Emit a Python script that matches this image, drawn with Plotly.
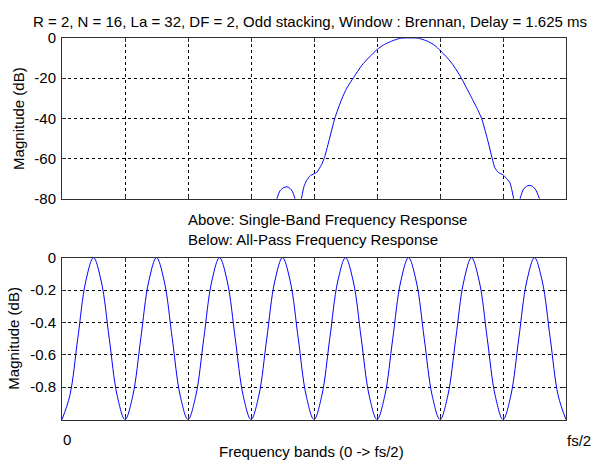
import plotly.graph_objects as go

# ---------------- data ----------------
# Top panel: single-band frequency response (dB), x in frequency bands (0..8 = 0..fs/2)
sb_freq = [3.41, 3.46, 3.52, 3.57, 3.62, 3.66, 3.70, None,
           3.80, 3.84, 3.88, 3.94, 4.04, 4.12, 4.17, 4.25, 4.33, 4.44, 4.52, 4.63,
           4.76, 4.88, 5.00, 5.10, 5.21, 5.30, 5.37, 5.45, 5.52, 5.59, 5.66, 5.73,
           5.82, 5.92, 6.00, 6.12, 6.22, 6.34, 6.42, 6.50, 6.58, 6.66, 6.75, 6.83,
           6.87, 6.93, 7.00, 7.06, 7.11, 7.14, 7.17, None,
           7.27, 7.32, 7.37, 7.42, 7.47, 7.52, 7.58]
sb_mag = [-80, -76, -74.4, -74, -74.8, -76.5, -80, None,
          -80, -74, -71, -68.5, -66.9, -63, -59, -49.6, -40, -30.4, -25, -19.6,
          -13.6, -9.5, -5.8, -3.6, -1.9, -0.8, -0.2, 0, 0, 0, -0.2, -0.8,
          -1.9, -3.8, -6.2, -10, -14, -20, -24.8, -29.6, -34.5, -40, -50, -60,
          -64.5, -67, -68, -70, -72, -75.5, -80, None,
          -80, -75.5, -73.8, -73.3, -73.8, -75.5, -80]

# Bottom panel: all-pass frequency response (dB), sampled every 1/8 band
ap_freq = [0, 0.125, 0.25, 0.375, 0.5, 0.625, 0.75, 0.875,
           1, 1.125, 1.25, 1.375, 1.5, 1.625, 1.75, 1.875,
           2, 2.125, 2.25, 2.375, 2.5, 2.625, 2.75, 2.875,
           3, 3.125, 3.25, 3.375, 3.5, 3.625, 3.75, 3.875,
           4, 4.125, 4.25, 4.375, 4.5, 4.625, 4.75, 4.875,
           5, 5.125, 5.25, 5.375, 5.5, 5.625, 5.75, 5.875,
           6, 6.125, 6.25, 6.375, 6.5, 6.625, 6.75, 6.875,
           7, 7.125, 7.25, 7.375, 7.5, 7.625, 7.75, 7.875, 8]
ap_mag = [-1, -0.85, -0.5, -0.15, 0, -0.15, -0.5, -0.85,
          -1, -0.85, -0.5, -0.15, 0, -0.15, -0.5, -0.85,
          -1, -0.85, -0.5, -0.15, 0, -0.15, -0.5, -0.85,
          -1, -0.85, -0.5, -0.15, 0, -0.15, -0.5, -0.85,
          -1, -0.85, -0.5, -0.15, 0, -0.15, -0.5, -0.85,
          -1, -0.85, -0.5, -0.15, 0, -0.15, -0.5, -0.85,
          -1, -0.85, -0.5, -0.15, 0, -0.15, -0.5, -0.85,
          -1, -0.85, -0.5, -0.15, 0, -0.15, -0.5, -0.85, -1]

x_ticks = [0, 1, 2, 3, 4, 5, 6, 7, 8]
top_yticks = [-80, -60, -40, -20, 0]
top_yticklabels = ["-80", "-60", "-40", "-20", "0"]
bot_yticks = [-0.8, -0.6, -0.4, -0.2, 0]
bot_yticklabels = ["-0.8", "-0.6", "-0.4", "-0.2", "0"]

title_text = "R = 2, N = 16, La = 32, DF = 2, Odd stacking, Window : Brennan, Delay = 1.625 ms"
mid_text_1 = "Above: Single-Band Frequency Response"
mid_text_2 = "Below: All-Pass Frequency Response"
ylabel = "Magnitude (dB)"
xlabel = "Frequency bands (0 -&gt; fs/2)"
x_left_label = "0"
x_right_label = "fs/2"

# ---------------- figure ----------------
W, H = 596, 470
FONT = "Liberation Sans, Arial, sans-serif"
FS = 15

def px(x):
    return x / W

def py(y):
    return 1 - y / H

fig = go.Figure()
fig.add_trace(go.Scatter(x=sb_freq, y=sb_mag, mode="lines", xaxis="x", yaxis="y",
                         line=dict(color="#0000ff", width=1, shape="spline", smoothing=0.6),
                         connectgaps=False, showlegend=False, hoverinfo="skip"))
fig.add_trace(go.Scatter(x=ap_freq, y=ap_mag, mode="lines", xaxis="x2", yaxis="y2",
                         line=dict(color="#0000ff", width=1, shape="spline", smoothing=1.0),
                         showlegend=False, hoverinfo="skip"))

xdom = [px(62), px(566)]
axis_common = dict(showline=True, linecolor="#303030", linewidth=1, mirror="ticks",
                   ticks="inside", ticklen=4, tickcolor="#303030",
                   showgrid=True, gridcolor="#000000", gridwidth=1, griddash="3px,3px",
                   zeroline=False, fixedrange=True)

fig.update_layout(
    width=W, height=H,
    margin=dict(l=0, r=0, t=0, b=0),
    paper_bgcolor="white", plot_bgcolor="white",
    font=dict(family=FONT, size=FS, color="black"),
    xaxis=dict(domain=xdom, range=[0, 8], tickvals=x_ticks, showticklabels=False,
               anchor="y", **axis_common),
    yaxis=dict(domain=[py(197), py(30)], range=[-80, 0], tickvals=top_yticks,
               ticktext=top_yticklabels, anchor="x", ticklabelstandoff=2, **axis_common),
    xaxis2=dict(domain=xdom, range=[0, 8], tickvals=x_ticks, showticklabels=False,
                anchor="y2", **axis_common),
    yaxis2=dict(domain=[py(426), py(258)], range=[-1, 0], tickvals=bot_yticks,
                ticktext=bot_yticklabels, anchor="x2", ticklabelstandoff=2, **axis_common),
)

def ann(text, x, y, xanchor="center", textangle=0):
    fig.add_annotation(text=text, x=px(x), y=py(y), xref="paper", yref="paper",
                       xanchor=xanchor, yanchor="middle", showarrow=False,
                       textangle=textangle, borderpad=0,
                       font=dict(family=FONT, size=FS, color="black"))

ann(title_text, 309.5, 13)
ann(mid_text_1, 187, 218, xanchor="left")
ann(mid_text_2, 187, 239, xanchor="left")
ann(x_left_label, 62, 447, xanchor="left")
ann(x_right_label, 566, 448, xanchor="left")
ann(xlabel, 311.5, 459)
ann(ylabel, 19, 114, textangle=-90)
ann(ylabel, 14, 342, textangle=-90)

fig.write_html("out.html",
               config={"displayModeBar": False},
               post_script="document.body.style.margin='0px';document.body.style.overflow='hidden';")
